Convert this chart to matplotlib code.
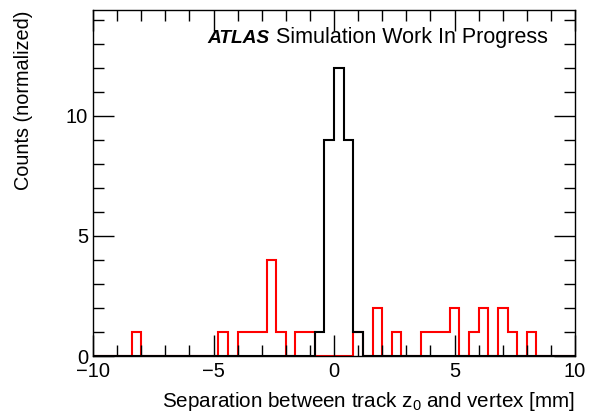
import numpy as np
import matplotlib
matplotlib.use("Agg")
import matplotlib.pyplot as plt
from matplotlib.ticker import MultipleLocator

plt.rcParams['font.family'] = ['Liberation Sans', 'DejaVu Sans']

# 50 bins of 0.4 mm from -10 to 10
edges = np.linspace(-10, 10, 51)

# black histogram (peaked around zero)
black_counts = [0] * 23 + [1, 9, 12, 9, 1] + [0] * 22

# red histogram (spread out)
red_counts = [0, 0, 0, 0, 1, 0, 0, 0, 0, 0,
              0, 0, 0, 1, 0, 1, 1, 1, 4, 1,
              0, 1, 1, 0, 0, 0, 0, 1, 0, 2,
              0, 1, 0, 0, 1, 1, 1, 2, 0, 1,
              2, 0, 2, 1, 0, 1, 0, 0, 0, 0]

fig = plt.figure(figsize=(5.94, 4.15), dpi=100)
ax = fig.add_axes([93/594, 1 - 356/415, (575 - 93)/594, (356 - 10)/415])

ax.stairs(red_counts, edges, color='#ff0000', linewidth=1.5)
ax.stairs(black_counts, edges, color='black', linewidth=1.5)

ax.set_xlim(-10, 10)
ax.set_ylim(0, 14.4)

# ROOT-like ticks: inside, on all sides
ax.xaxis.set_major_locator(MultipleLocator(5))
ax.xaxis.set_minor_locator(MultipleLocator(1))
ax.yaxis.set_major_locator(MultipleLocator(5))
ax.yaxis.set_minor_locator(MultipleLocator(1))
ax.tick_params(which='both', direction='in', top=True, right=True, labelsize=14.5, width=1)
ax.tick_params(which='major', length=15)
ax.tick_params(which='minor', length=8)
ax.tick_params(axis='x', pad=4)
for s in ax.spines.values():
    s.set_linewidth(1)

ax.set_xlabel('Separation between track z$_{\\mathregular{0}}$ and vertex [mm]', fontsize=14.9,
              ha='right', x=1.0, labelpad=7)
ax.set_ylabel('Counts (normalized)', fontsize=14.3, ha='right', y=1.0)
ax.yaxis.set_label_coords(-0.1245, 1.0)

ax.text(0.237, 0.904, 'ATLAS', transform=ax.transAxes, fontsize=13.8,
        fontweight='bold', fontstyle='italic', va='baseline')
ax.text(0.379, 0.904, 'Simulation Work In Progress', transform=ax.transAxes,
        fontsize=15.5, va='baseline')

fig.savefig('out.png', dpi=100)
